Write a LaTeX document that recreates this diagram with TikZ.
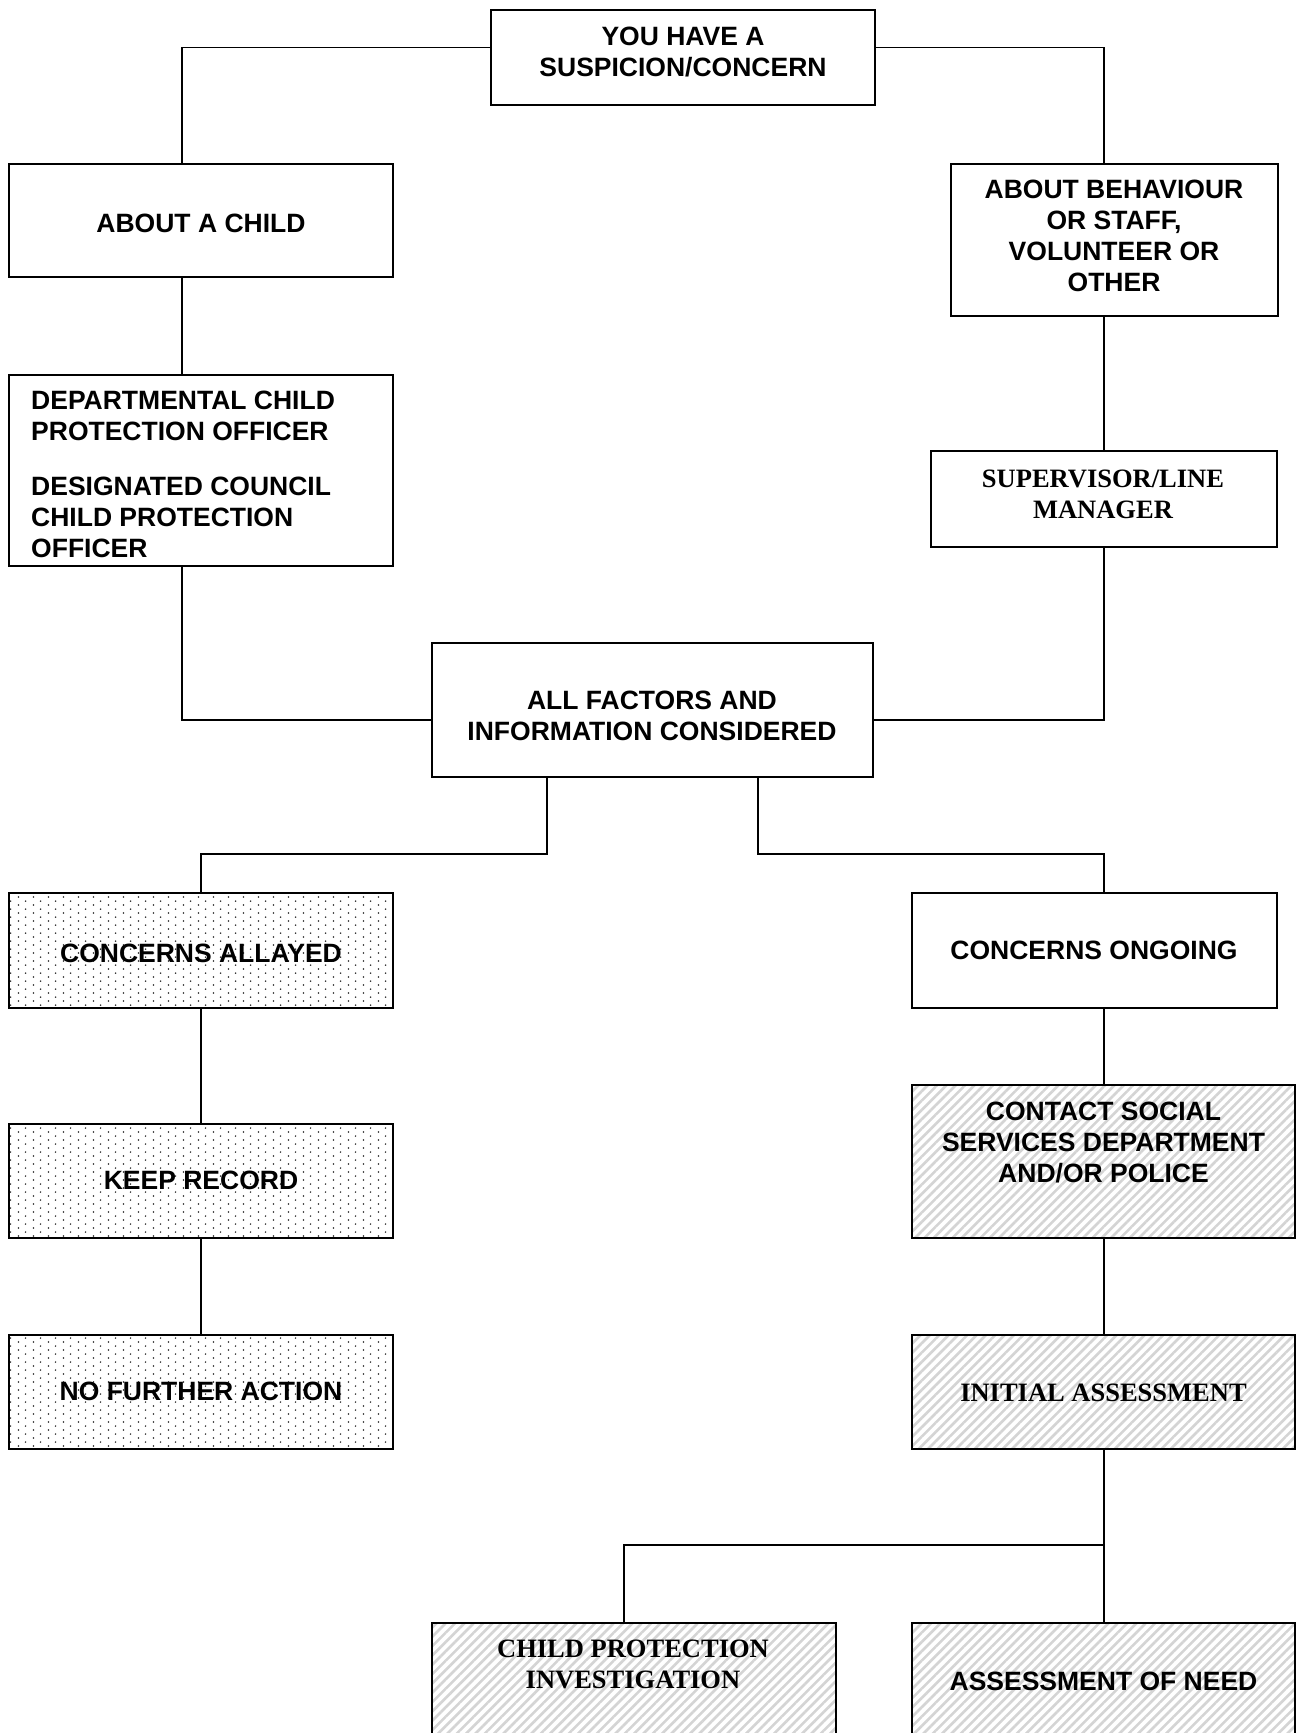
\documentclass[tikz,border=0pt]{standalone}
\usepackage{fontspec}
\setmainfont{Liberation Sans}
\newfontfamily\tms{Liberation Serif}
\usetikzlibrary{fit,patterns,patterns.meta}
\pgfdeclarepattern{
  name=sparsedots,
  type=uncolored,
  bottom left={\pgfpoint{0pt}{0pt}},
  top right={\pgfpoint{15pt}{8.4pt}},
  tile size={\pgfpoint{15pt}{8.4pt}},
  code={
    \pgfpathcircle{\pgfpoint{3.75pt}{2.1pt}}{0.9pt}
    \pgfpathcircle{\pgfpoint{11.25pt}{6.3pt}}{0.9pt}
    \pgfusepath{fill}
  }
}
\definecolor{hatchgray}{RGB}{212,212,212}
\tikzset{
  box/.style={draw=black, line width=1.6pt, inner sep=0pt},
  dotbox/.style={box, pattern=sparsedots, pattern color=black!85},
  hatchbox/.style={box, pattern={Lines[angle=45,distance=6.6pt,line width=2.6pt]}, pattern color=hatchgray},
  txt/.style={font=\bfseries\fontsize{26.5}{31}\selectfont, align=center, inner sep=0pt, text depth=0pt},
  ttxt/.style={font=\tms\bfseries\fontsize{26.5}{31}\selectfont, align=center, inner sep=0pt, text depth=0pt},
  conn/.style={draw=black, line width=1.4pt}
}
\begin{document}
\begin{tikzpicture}[x=1pt,y=-1pt]
\useasboundingbox (0,0) rectangle (1302,1733);
\fill[white] (0,0) rectangle (1302,1733);
\clip (0,0) rectangle (1302,1733);

% boxes
\node[box, fit={(491,10) (875,105)}] (top) {};
\node[box, fit={(9,164) (393,277)}] (child) {};
\node[box, fit={(951,164) (1278,316)}] (behav) {};
\node[box, fit={(9,375) (393,566)}] (dept) {};
\node[box, fit={(931,451) (1277,547)}] (sup) {};
\node[box, fit={(432,643) (873,777)}] (allf) {};
\node[dotbox, fit={(9,893) (393,1008)}] (allay) {};
\node[box, fit={(912,893) (1277,1008)}] (ongoing) {};
\node[dotbox, fit={(9,1124) (393,1238)}] (keep) {};
\node[hatchbox, fit={(912,1085) (1295,1238)}] (contact) {};
\node[dotbox, fit={(9,1335) (393,1449)}] (nofurther) {};
\node[hatchbox, fit={(912,1335) (1295,1449)}] (initial) {};
\node[hatchbox, fit={(432,1623) (836,1760)}] (cpi) {};
\node[hatchbox, fit={(912,1623) (1295,1760)}] (assess) {};

% texts
\node[txt] (ttop) at (683,51.4) {YOU HAVE A\\SUSPICION/CONCERN};
\node[txt] (tchild) at (201,223) {ABOUT A CHILD};
\node[txt] (tbehav) at (1114,235.5) {ABOUT BEHAVIOUR\\OR STAFF,\\VOLUNTEER OR\\OTHER};
\node[txt, align=left, anchor=north west] (tdept) at (31,390.5) {DEPARTMENTAL CHILD\\PROTECTION OFFICER\\[24pt]DESIGNATED COUNCIL\\CHILD PROTECTION\\OFFICER};
\node[ttxt] (tsup) at (1103,494) {SUPERVISOR/LINE\\MANAGER};
\node[txt] (tallf) at (652,715.6) {ALL FACTORS AND\\INFORMATION CONSIDERED};
\node[txt] (tallay) at (201,953) {CONCERNS ALLAYED};
\node[txt] (tongoing) at (1094,950.5) {CONCERNS ONGOING};
\node[txt] (tcontact) at (1103.5,1142) {CONTACT SOCIAL\\SERVICES DEPARTMENT\\AND/OR POLICE};
\node[txt] (tkeep) at (201,1180) {KEEP RECORD};
\node[ttxt] (tinitial) at (1103.5,1393) {INITIAL ASSESSMENT};
\node[txt] (tnofurther) at (201,1391.5) {NO FURTHER ACTION};
\node[ttxt] (tcpi) at (633,1664.5) {CHILD PROTECTION\\INVESTIGATION};
\node[txt] (tassess) at (1103.5,1681) {ASSESSMENT OF NEED};

% connectors
\coordinate (br) at (1104,1545);
\draw[conn] (top.west |- 0,47.5) -| (182,0 |- child.north);
\draw[conn] (top.east |- 0,47.5) -| (1104,0 |- behav.north);
\draw[conn] (182,0 |- child.south) -- (182,0 |- dept.north);
\draw[conn] (1104,0 |- behav.south) -- (1104,0 |- sup.north);
\draw[conn] (182,0 |- dept.south) |- (allf.west |- 0,720);
\draw[conn] (1104,0 |- sup.south) |- (allf.east |- 0,720);
\draw[conn] (547,0 |- allf.south) -- (547,854) -| (allay.north);
\draw[conn] (758,0 |- allf.south) -- (758,854) -| (1104,0 |- ongoing.north);
\draw[conn] (allay.south) -- (keep.north);
\draw[conn] (keep.south) -- (nofurther.north);
\draw[conn] (1104,0 |- ongoing.south) -- (1104,0 |- contact.north);
\draw[conn] (1104,0 |- contact.south) -- (1104,0 |- initial.north);
\draw[conn] (1104,0 |- initial.south) -- (br) -- (1104,0 |- assess.north);
\draw[conn] (br) -| (624,0 |- cpi.north);
\end{tikzpicture}
\end{document}
